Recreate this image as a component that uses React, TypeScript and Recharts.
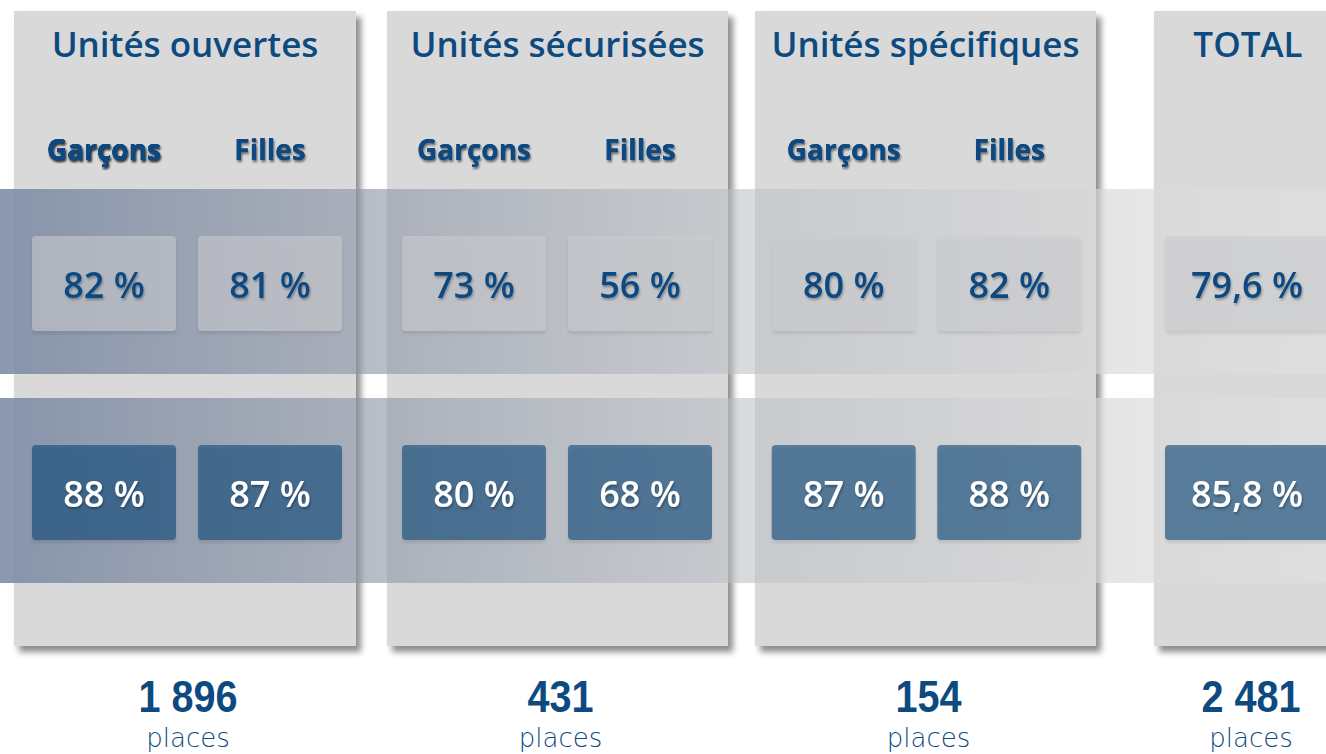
import React from 'react';
import { ComposedChart, Scatter, XAxis, YAxis } from 'recharts';

// données
const UNITES = ['Unités ouvertes', 'Unités sécurisées', 'Unités spécifiques', 'TOTAL'];
const SEXES = ['Garçons', 'Filles'];
const LIGNES = ['ligne1', 'ligne2'];
const LIGNE1_GARCONS = [82, 73, 80];
const LIGNE1_FILLES = [81, 56, 82];
const LIGNE2_GARCONS = [88, 80, 87];
const LIGNE2_FILLES = [87, 68, 88];
const TOTAL_LIGNES = [79.6, 85.8];
const PLACES = [1896, 431, 154, 2481];

// mise en page
const W = 1326;
const H = 754;
const PANELS = [
    { left: 14, right: 356 },
    { left: 387, right: 728 },
    { left: 755, right: 1096 },
    { left: 1154, right: 1342 },
];
const AXIS_RANGES = [[21, 353], [391, 723], [761, 1092], [1168, 1326]];
const BLEU = '#0c4a80';

const pct = (v: number) => `${v.toString().replace('.', ',')} %`;
const milliers = (n: number) => n.toString().replace(/\B(?=(\d{3})+(?!\d))/g, ' ');

const pointsLigne = (i: number, l: number) => {
    if (i === 3) return [{ sexe: 'TOTAL', ligne: LIGNES[l], v: TOTAL_LIGNES[l] }];
    const g = l === 0 ? LIGNE1_GARCONS : LIGNE2_GARCONS;
    const f = l === 0 ? LIGNE1_FILLES : LIGNE2_FILLES;
    return [
        { sexe: SEXES[0], ligne: LIGNES[l], v: g[i] },
        { sexe: SEXES[1], ligne: LIGNES[l], v: f[i] },
    ];
};

const bandes = LIGNES.map((ligne) => ({ sexe: SEXES[0], ligne }));

const Bande = (props: any) => (
    <rect x={0} y={props.cy - 92.5} width={W} height={185} fill="url(#bande)" />
);

const Case = (props: any) => {
    const { cx, cy, payload } = props;
    const haut = payload.ligne === LIGNES[0];
    const w = payload.sexe === 'TOTAL' ? 164 : 144;
    return (
        <g>
            <rect
                x={cx - w / 2}
                y={cy - 45.5}
                width={w}
                height={95}
                rx={4}
                fill={haut ? 'rgba(204,205,209,0.56)' : 'rgba(23,76,123,0.62)'}
                filter="url(#ombreCase)"
            />
            <text
                x={cx}
                y={cy + 16}
                textAnchor="middle"
                fontFamily="'Open Sans', sans-serif"
                fontWeight={600}
                fontSize={36}
                fill={haut ? BLEU : '#ffffff'}
                filter="url(#ombreTexte)"
            >
                {pct(payload.v)}
            </text>
        </g>
    );
};

const SexeTick = (props: any) => (
    <text
        x={props.x}
        y={props.y}
        textAnchor="middle"
        fontFamily="'Open Sans', sans-serif"
        fontWeight={700}
        fontSize={28}
        fill={BLEU}
        filter="url(#ombreTexte)"
    >
        {props.payload.value}
    </text>
);

const Fonds = () => (
    <g>
        <defs>
            <linearGradient id="bande" gradientUnits="userSpaceOnUse" x1={0} y1={0} x2={W} y2={0}>
                <stop offset="0" stopColor="rgb(126,140,165)" stopOpacity={0.9} />
                <stop offset="0.275" stopColor="rgb(142,151,168)" stopOpacity={0.64} />
                <stop offset="0.56" stopColor="rgb(188,191,198)" stopOpacity={0.58} />
                <stop offset="0.85" stopColor="rgb(217,217,217)" stopOpacity={0.66} />
                <stop offset="1" stopColor="rgb(225,225,225)" stopOpacity={0.6} />
            </linearGradient>
            <filter id="ombrePanneau" x="-10%" y="-10%" width="130%" height="130%">
                <feDropShadow dx={5} dy={6} stdDeviation={3} floodColor="#000" floodOpacity={0.45} />
            </filter>
            <filter id="ombreCase" x="-10%" y="-10%" width="130%" height="130%">
                <feDropShadow dx={0} dy={3} stdDeviation={1.5} floodColor="#000" floodOpacity={0.15} />
            </filter>
            <filter id="ombreTexte" x="-10%" y="-20%" width="130%" height="150%">
                <feDropShadow dx={1} dy={2} stdDeviation={1.2} floodColor="#000" floodOpacity={0.3} />
            </filter>
        </defs>
        {PANELS.map((p, i) => (
            <rect
                key={i}
                x={p.left}
                y={11}
                width={p.right - p.left}
                height={635}
                fill="#d9d9d9"
                filter="url(#ombrePanneau)"
            />
        ))}
    </g>
);

const Textes = () => (
    <g>
        {PANELS.map((p, i) => {
            const cx = (p.left + p.right) / 2;
            return (
                <g key={i}>
                    <text x={cx} y={57} textAnchor="middle" fontFamily="'Open Sans', sans-serif" fontWeight={600} fontSize={35} fill={BLEU}>
                        {UNITES[i]}
                    </text>
                    <text
                        x={0}
                        y={0}
                        transform={`translate(${cx + 3},712) scale(0.9,1)`}
                        textAnchor="middle"
                        fontFamily="'Liberation Sans', sans-serif"
                        fontWeight={700}
                        fontSize={44}
                        fill={BLEU}
                    >
                        {milliers(PLACES[i])}
                    </text>
                    <text x={cx + 3} y={747} textAnchor="middle" fontFamily="'DejaVu Sans', sans-serif" fontWeight={300} fontSize={26} fill={BLEU}>
                        places
                    </text>
                </g>
            );
        })}
    </g>
);

export default function App() {
    return (
        <div style={{ position: 'absolute', left: 0, top: 0, width: W, height: H, overflow: 'hidden', background: '#fff' }}>
            <ComposedChart width={W} height={H} margin={{ top: 173, right: 0, bottom: 159, left: 0 }}>
                <Fonds />
                {PANELS.map((_, i) => (
                    <XAxis
                        key={i}
                        xAxisId={i}
                        type="category"
                        dataKey="sexe"
                        orientation="top"
                        scale="band"
                        allowDuplicatedCategory={false}
                        height={1}
                        axisLine={false}
                        tickLine={false}
                        tickSize={0}
                        tickMargin={17 - i}
                        tick={i === 3 ? false : (p: any) => <SexeTick {...p} />}
                        interval={0}
                        padding={{ left: AXIS_RANGES[i][0], right: W - AXIS_RANGES[i][1] }}
                    />
                ))}
                <YAxis type="category" dataKey="ligne" scale="band" allowDuplicatedCategory={false} reversed hide />
                <Scatter data={bandes} xAxisId={0} shape={<Bande />} isAnimationActive={false} />
                {PANELS.map((_, i) =>
                    LIGNES.map((_l, l) => (
                        <Scatter
                            key={`${i}-${l}`}
                            data={pointsLigne(i, l)}
                            xAxisId={i}
                            shape={<Case />}
                            isAnimationActive={false}
                        />
                    ))
                )}
                <Textes />
            </ComposedChart>
        </div>
    );
}
